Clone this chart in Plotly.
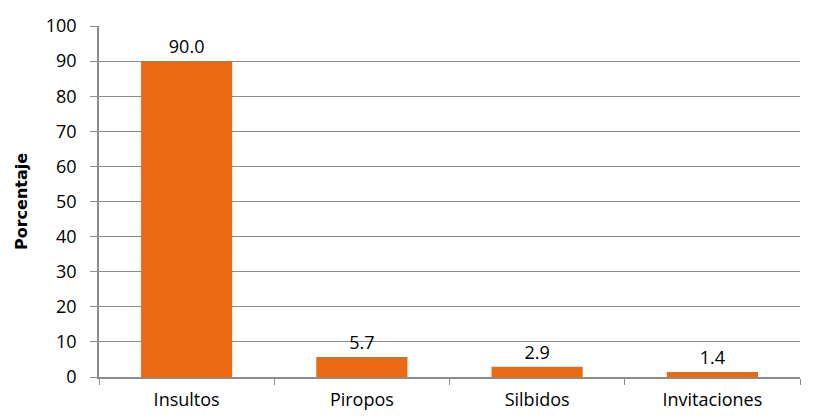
import plotly.graph_objects as go

categories = ["Insultos", "Piropos", "Silbidos", "Invitaciones"]
values = [90.0, 5.7, 2.9, 1.4]
y_ticks = [0, 10, 20, 30, 40, 50, 60, 70, 80, 90, 100]

font_family = "'Open Sans', Lato, sans-serif"

fig = go.Figure(
    go.Bar(
        x=categories,
        y=values,
        marker=dict(color="#EA6912", line=dict(width=0)),
        width=0.52,
        text=[f"{v:.1f}" for v in values],
        textposition="outside",
        textfont=dict(size=18, color="#000000", family=font_family),
        cliponaxis=False,
    )
)

fig.update_layout(
    width=815,
    height=417,
    margin=dict(l=99, r=15, t=26, b=40),
    plot_bgcolor="white",
    paper_bgcolor="white",
    font=dict(family=font_family, size=18, color="#000000"),
    showlegend=False,
)

fig.update_xaxes(
    type="category",
    showgrid=False,
    showline=True,
    linecolor="#8C8C8C",
    linewidth=1.5,
    ticks="outside",
    tickson="boundaries",
    ticklen=6,
    tickcolor="#8C8C8C",
    tickfont=dict(size=18),
    ticklabelstandoff=6,
    automargin=False,
)

fig.update_yaxes(
    range=[0, 100],
    tickvals=y_ticks,
    showgrid=True,
    gridcolor="#8C8C8C",
    gridwidth=1.2,
    showline=True,
    linecolor="#8C8C8C",
    linewidth=1.5,
    ticks="outside",
    ticklen=7,
    tickcolor="#8C8C8C",
    tickfont=dict(size=18),
    ticklabelstandoff=10,
    zeroline=False,
    automargin=False,
    title=dict(text="<b>Porcentaje</b>",
               font=dict(size=16, family="'DejaVu Sans', sans-serif"),
               standoff=14),
)

fig.write_html("out.html", config={"displayModeBar": False},
               post_script="document.body.style.margin='0';")
